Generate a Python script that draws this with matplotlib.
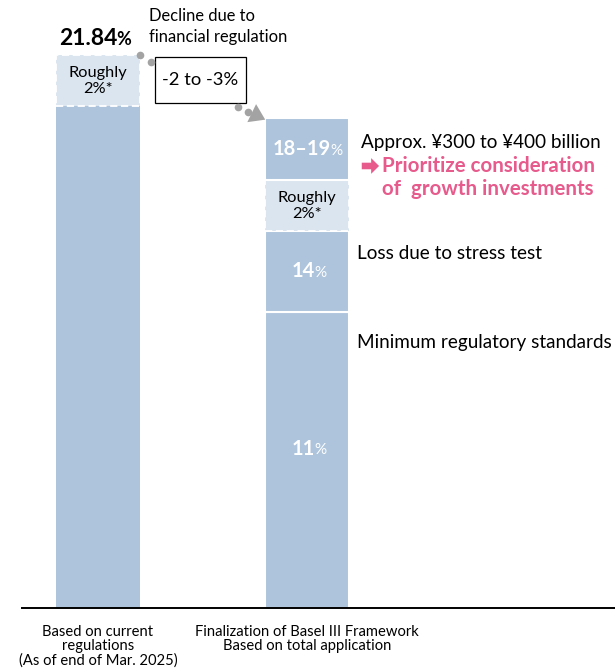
import matplotlib
matplotlib.use("Agg")
import matplotlib.pyplot as plt
from matplotlib.patches import Rectangle, FancyArrowPatch, FancyArrow
import numpy as np

plt.rcParams['font.family'] = ['Lato', 'DejaVu Sans']

# categories / segment heights (schematic, in % points as drawn)
categories = ['Based on current\nregulations\n(As of end of Mar. 2025)',
              'Finalization of Basel III Framework\nBased on total application']
bar1_segments = [19.84, 2.0]            # solid, "roughly 2%" buffer
bar2_segments = [11.7, 3.2, 2.0, 2.45]  # 11%, up to 14%, buffer, 18-19%
bar1_total_label = '21.84'
bar2_labels = ['11', '14', None, '18–19']

bar_color = '#adc4dc'
buffer_color = '#dbe5f0'
pink = '#e65a8c'
grey = '#a3a3a3'

fig = plt.figure(figsize=(6.15, 6.7), dpi=100)
ax = fig.add_axes([22 / 615, 62 / 670, 593 / 615, 608 / 670])
ax.set_xlim(-0.364, 2.474)
ax.set_ylim(0, 24.03)
w = 0.40

# bar 1
ax.bar(0, bar1_segments[0], w, color=bar_color, edgecolor='none')
ax.bar(0, bar1_segments[1], w, bottom=bar1_segments[0], color=buffer_color,
       edgecolor='white', linestyle=(0, (4, 2)), linewidth=1.3)

# bar 2
bottoms = np.concatenate([[0], np.cumsum(bar2_segments)[:-1]])
for i, (h, b) in enumerate(zip(bar2_segments, bottoms)):
    if i == 2:
        ax.bar(1, h, w, bottom=b, color=buffer_color, edgecolor='white',
               linestyle=(0, (4, 2)), linewidth=1.3)
    else:
        ax.bar(1, h, w, bottom=b, color=bar_color, edgecolor='white', linewidth=1.5)

# white % labels inside bar 2 (number right edge, % just after)
for lab, h, b in zip(bar2_labels, bar2_segments, bottoms):
    if lab is None:
        continue
    y = b + h / 2
    xr = 1.115 if lab == '18–19' else 1.04
    if lab == '11':
        y = b + h / 2 + 0.45
    ax.text(xr, y, lab, ha='right', va='center', color='white',
            fontsize=14.5, fontweight='bold')
    ax.text(xr - 0.004, y - 0.07, '%', ha='left', va='center', color='white',
            fontsize=11)

# buffer labels
ax.text(0, bar1_segments[0] + bar1_segments[1] / 2, 'Roughly\n2%*', ha='center',
        va='center', fontsize=11.8, linespacing=1.2)
ax.text(1, bottoms[2] + bar2_segments[2] / 2, 'Roughly\n2%*', ha='center',
        va='center', fontsize=11.8, linespacing=1.2)

# 21.84% headline
top1 = sum(bar1_segments)
ax.text(0.091, top1 + 0.68, bar1_total_label, ha='right', va='center',
        fontsize=16.5, fontweight='bold')
ax.text(0.088, top1 + 0.64, '%', ha='left', va='center', fontsize=13,
        fontweight='bold')

ax.text(0.245, top1 + 1.15, 'Decline due to\nfinancial regulation', ha='left',
        va='center', fontsize=11.9, linespacing=1.35)

# -2 to -3% box
ax.add_patch(Rectangle((0.273, 19.96), 0.435, 1.82, fc='white', ec='black', lw=0.9))
ax.text(0.49, 20.87, '-2 to -3%', ha='center', va='center', fontsize=13.2)

# dotted connectors
top2 = sum(bar2_segments)
ax.plot([0.201, 0.254, 0.67, 0.718], [21.86, 21.58, 19.80, 19.60], 'o',
        ms=5.5, color=grey, mec='none')
ax.add_patch(FancyArrowPatch((0.735, 19.56), (0.8, top2 - 0.05),
                             arrowstyle='-|>,head_length=6,head_width=4',
                             mutation_scale=1.8, color=grey, lw=0,
                             shrinkA=0, shrinkB=0))

# right-hand annotations
ax.text(1.26, 18.38, 'Approx. ¥300 to ¥400 billion', ha='left', va='center',
        fontsize=13.6)
ax.add_patch(FancyArrow(1.262, 17.47, 0.045, 0, width=0.26, head_width=0.62,
                        head_length=0.038, length_includes_head=False,
                        color=pink, lw=0))
ax.text(1.36, 17.47, 'Prioritize consideration', ha='left', va='center',
        fontsize=14.8, color=pink, fontweight='bold')
ax.text(1.36, 16.56, 'of  growth investments', ha='left', va='center',
        fontsize=14.8, color=pink, fontweight='bold')
ax.text(1.24, 14.03, 'Loss due to stress test', ha='left', va='center',
        fontsize=13.6)
ax.text(1.24, 10.51, 'Minimum regulatory standards', ha='left', va='center',
        fontsize=13.6)

ax.set_xticks([0, 1])
ax.set_xticklabels(categories, fontsize=10.6, linespacing=1.05)
ax.tick_params(axis='x', length=0, pad=12)
ax.set_yticks([])
for s in ['top', 'left', 'right']:
    ax.spines[s].set_visible(False)
ax.spines['bottom'].set_linewidth(1.4)

fig.savefig('out.png', dpi=100)
